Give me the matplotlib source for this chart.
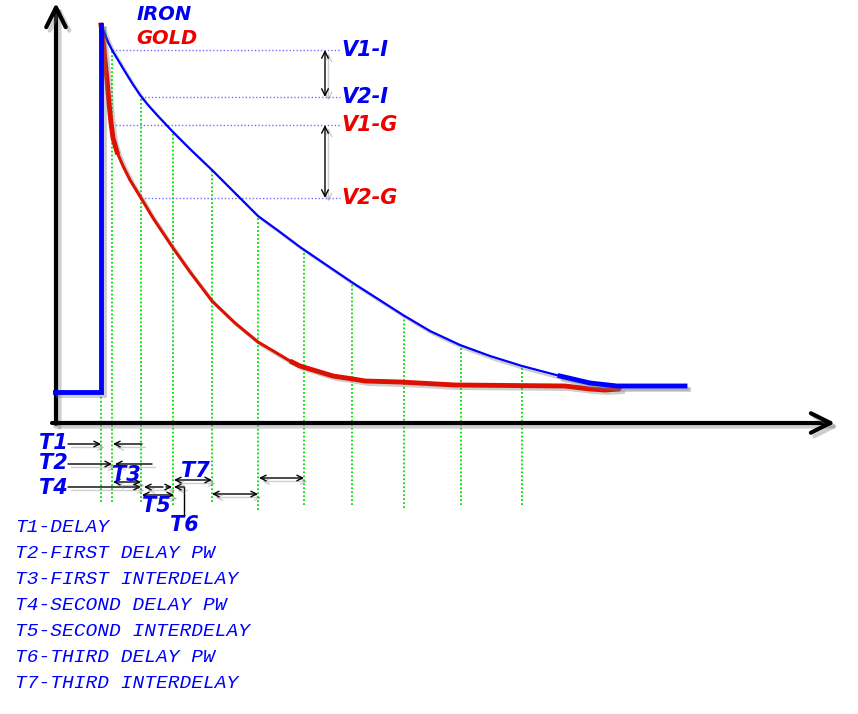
import numpy as np
import matplotlib
matplotlib.use("Agg")
import matplotlib.pyplot as plt
import matplotlib.patheffects as pe

# Pulse decay: IRON vs GOLD (time t, voltage v, arbitrary units)
pulse_t = [-1, 45, 45]
pulse_v = [31, 31, 398]

iron_t = [45, 48, 52, 56, 62, 68, 76, 84, 92, 101, 117, 134, 156, 179, 202, 224, 244,
          269, 297, 322, 347, 374, 404, 434, 466, 504, 534, 561, 629]
iron_v = [398, 391, 381, 373, 363, 353, 340, 328, 318, 308, 291, 274, 253, 230, 207, 191, 176,
          159, 140, 124, 108, 92, 78, 67, 57, 47, 40, 37, 37]

gold_t = [45, 47, 49, 51, 53, 55, 57, 61, 67, 74, 85, 97, 107, 117, 134, 156, 179, 202, 219,
          234, 244, 277, 297, 309, 344, 399, 509, 534, 549, 564]
gold_v = [398, 383, 363, 343, 320, 300, 285, 271, 257, 243, 225, 205, 190, 175, 151, 122, 100, 81, 71,
          62, 57, 47, 44, 42, 41, 38, 37, 34, 33, 34]

# sample instants (green markers) and where they end below the axis
sample_t = [45, 56, 85, 117, 156, 202, 248, 296, 348, 405, 466]
sample_bottom = [-79, -79, -79, -82, -79, -87, -82, -82, -85, -82, -82]

# voltage levels
level_names = ["V1-I", "V2-I", "V1-G", "V2-G"]
level_v = [373, 326, 298, 225]
level_start = [56, 85, 56, 85]
level_colors = ["#0000ee", "#0000ee", "#ee0000", "#ee0000"]
level_end = 284

# timing intervals below the axis
one_way = [  # (t_from, t_to, v)
    (12, 45, -21), (86, 57, -21),
    (12, 56, -41), (96, 59, -41),
    (12, 85, -64), (107, 88, -64),
    (110, 116, -64), (128, 118, -64),
]
both_ways = [(57, 85, -59), (86, 118, -72), (118, 156, -57), (156, 202, -71), (203, 248, -55)]
t_labels = {"T1": (12, -20, "right"), "T2": (12, -40, "right"), "T4": (12, -65, "right"),
            "T3": (70, -52, "center"), "T5": (100, -83, "center"),
            "T6": (128, -102, "center"), "T7": (139, -48, "center")}

legend_lines = ["T1-DELAY", "T2-FIRST DELAY PW", "T3-FIRST INTERDELAY",
                "T4-SECOND DELAY PW", "T5-SECOND INTERDELAY",
                "T6-THIRD DELAY PW", "T7-THIRD INTERDELAY"]

shadow = [pe.SimpleLineShadow(offset=(2.5, -2.5), shadow_color="0.45", alpha=0.35), pe.Normal()]

fig = plt.figure(figsize=(8.58, 7.14), dpi=100)
ax = fig.add_axes([0, 0, 1, 1])
ax.set_xlim(-56, 802)
ax.set_ylim(-291, 423)
ax.axis("off")

# axes with open arrow heads
big = dict(arrowstyle="->,head_length=0.5,head_width=0.25", lw=3, color="black",
           mutation_scale=28, shrinkA=0, shrinkB=0, path_effects=shadow)
ax.annotate("", xy=(0, 420), xytext=(0, -1), arrowprops=big)
ax.annotate("", xy=(779, 0), xytext=(-4, 0), arrowprops=big)

# sample instants
tops = np.interp(sample_t, iron_t, iron_v)
for t, top, bot in zip(sample_t, tops, sample_bottom):
    ax.plot([t, t], [bot, top], color="#00dd00", lw=1.3, ls=(0, (1, 1.2)), zorder=1)

# levels
for name, v, t0, c in zip(level_names, level_v, level_start, level_colors):
    ax.plot([t0, level_end], [v, v], color="#7070ff", lw=1, ls=(0, (1, 1.5)), zorder=1)
    ax.text(level_end + 1, v, name, color=c, fontsize=15, fontweight="bold",
            fontstyle="italic", ha="left", va="center")

small_v = dict(arrowstyle="<->,head_length=0.4,head_width=0.2", lw=1, color="black",
               mutation_scale=12, shrinkA=0, shrinkB=0, path_effects=shadow)
ax.annotate("", xy=(269, level_v[0]), xytext=(269, level_v[1]), arrowprops=small_v)
ax.annotate("", xy=(269, level_v[2]), xytext=(269, level_v[3]), arrowprops=small_v)

# curves
ax.plot(gold_t, gold_v, color="#dd1100", lw=2.2, zorder=3, path_effects=shadow)
ax.plot(gold_t[:8], gold_v[:8], color="#dd1100", lw=3.5, zorder=3)
ax.plot(gold_t[19:], gold_v[19:], color="#dd1100", lw=3.5, zorder=3, solid_capstyle="butt")
ax.plot(iron_t, iron_v, color="#0000ff", lw=1.6, zorder=4, path_effects=shadow)
ax.plot(iron_t[25:], iron_v[25:], color="#0000ff", lw=3.5, zorder=4, path_effects=shadow)
ax.plot(pulse_t, pulse_v, color="#0000ff", lw=3.5, zorder=4, path_effects=shadow,
        solid_joinstyle="miter")

ax.text(81, 409, "IRON", color="#0000ee", fontsize=14, fontweight="bold",
        fontstyle="italic", ha="left", va="center")
ax.text(80, 385, "GOLD", color="#ee0000", fontsize=14, fontweight="bold",
        fontstyle="italic", ha="left", va="center")

# timing arrows
one = dict(arrowstyle="->,head_length=0.4,head_width=0.2", lw=1, color="black",
           mutation_scale=10, shrinkA=0, shrinkB=0, path_effects=shadow)
two = dict(one, arrowstyle="<->,head_length=0.4,head_width=0.2")
for t0, t1, v in one_way:
    ax.annotate("", xy=(t1, v), xytext=(t0, v), arrowprops=one)
for t0, t1, v in both_ways:
    ax.annotate("", xy=(t1, v), xytext=(t0, v), arrowprops=two)
ax.plot([128, 128], [-64, -92], color="black", lw=1)

for name, (t, v, ha) in t_labels.items():
    ax.text(t, v, name, color="#0000ee", fontsize=15, fontweight="bold",
            fontstyle="italic", ha=ha, va="center")

# legend text
for i, line in enumerate(legend_lines):
    ax.text(-41, -104 - i * 26, line, color="#0000ff", fontsize=14,
            family="Liberation Mono", fontstyle="italic", ha="left", va="center")

fig.savefig("out.png", dpi=100, facecolor="white")
